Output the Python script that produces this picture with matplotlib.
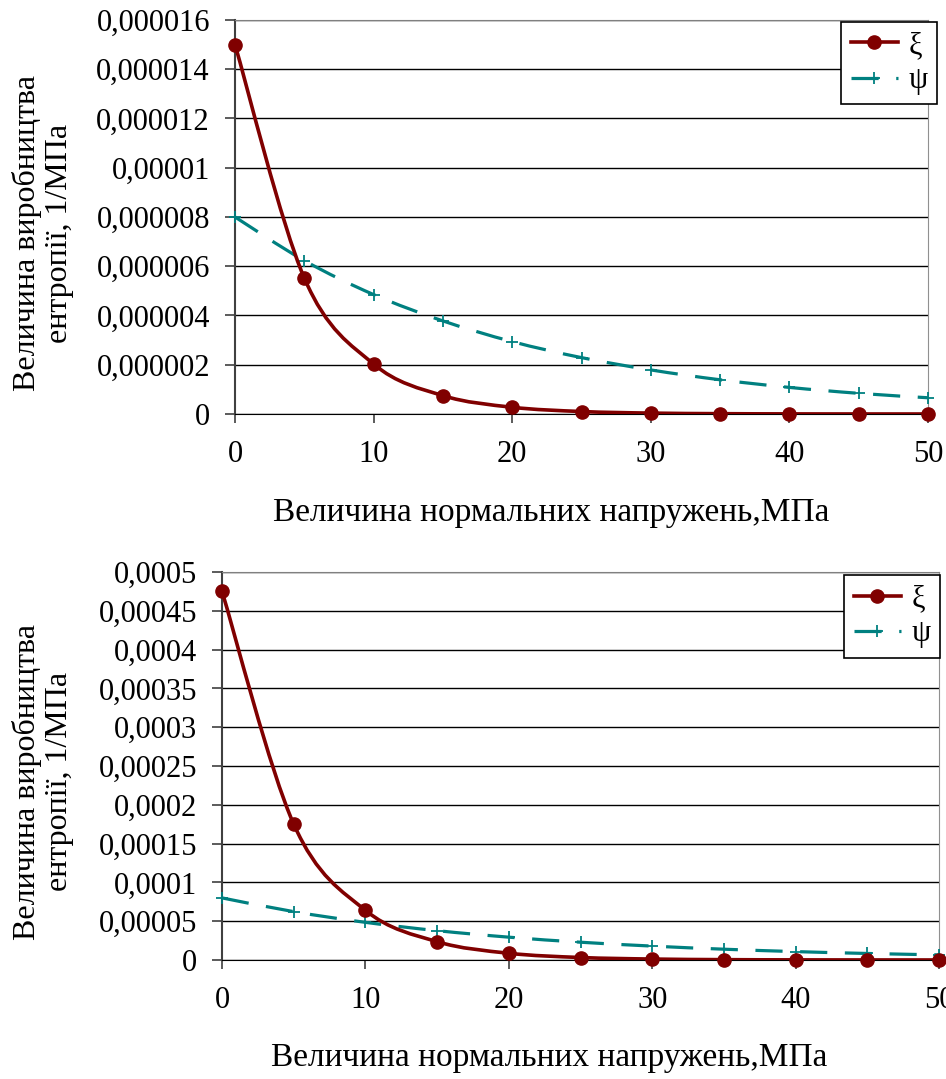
import numpy as np
import matplotlib
matplotlib.use("Agg")
from matplotlib import pyplot as plt
from matplotlib.path import Path
from matplotlib.patches import PathPatch
from matplotlib.lines import Line2D
from matplotlib.ticker import FuncFormatter, MultipleLocator

plt.rcParams['font.family'] = ['Liberation Serif', 'DejaVu Serif']

# ДАНІ

napruzhennia = [0, 5, 10, 15, 20, 25, 30, 35, 40, 45, 50]

xi_1 = [1.5e-5, 5.52e-6, 2.03e-6, 7.47e-7, 2.75e-7, 1.01e-7, 3.7e-8, 1.4e-8, 5e-9, 2e-9, 1e-9]
psi_1 = [8.0e-6, 6.23e-6, 4.85e-6, 3.78e-6, 2.94e-6, 2.29e-6, 1.79e-6, 1.39e-6, 1.08e-6, 8.4e-7, 6.6e-7]

xi_2 = [4.75e-4, 1.75e-4, 6.4e-5, 2.36e-5, 8.7e-6, 3.2e-6, 1.2e-6, 4.3e-7, 1.6e-7, 6e-8, 2e-8]
psi_2 = [8.0e-5, 6.23e-5, 4.85e-5, 3.78e-5, 2.94e-5, 2.29e-5, 1.79e-5, 1.39e-5, 1.08e-5, 8.4e-6, 6.6e-6]

mitky = ["ξ", "ψ"]
y_pidpys = "Величина виробництва\nентропії, 1/МПа"
x_pidpys = "Величина нормальних напружень,МПа"

KOLIR_XI = "#800000"
KOLIR_PSI = "#008080"
SHTRYKH = (0, (8.5, 5.5))
FS_TICK = 22
FS_X = 24
FS_Y = 23


def gladka_kryva(xs, ys):
    # згладжена лінія як у Excel (криві Безьє через точки)
    pts = np.column_stack([xs, ys])
    n = len(pts)
    verts = [pts[0]]
    codes = [Path.MOVETO]
    for i in range(n - 1):
        p0 = pts[max(i - 1, 0)]
        p1 = pts[i]
        p2 = pts[i + 1]
        p3 = pts[min(i + 2, n - 1)]
        verts += [p1 + (p2 - p0) / 6, p2 - (p3 - p1) / 6, p2]
        codes += [Path.CURVE4] * 3
    return Path(verts, codes)


def formatuvaty(v, pos):
    s = ("%.6f" % v).rstrip("0").rstrip(".")
    return s.replace(".", ",")


def grafik(ax, xi, psi, ymax, krok, leg_xy, xlab_xy, ylab_xy):
    ax.add_patch(PathPatch(gladka_kryva(napruzhennia, psi), fill=False,
                           edgecolor=KOLIR_PSI, lw=2.3, linestyle=SHTRYKH, zorder=3))
    ax.plot(napruzhennia, psi, ls="none", marker="+", ms=9, mew=1.3,
            color=KOLIR_PSI, clip_on=False, zorder=4)
    ax.add_patch(PathPatch(gladka_kryva(napruzhennia, xi), fill=False,
                           edgecolor=KOLIR_XI, lw=2.6, zorder=5))
    ax.plot(napruzhennia, xi, ls="none", marker="o", ms=9.5,
            color=KOLIR_XI, clip_on=False, zorder=6)

    ax.set_xlim(0, 50)
    ax.set_ylim(0, ymax)
    ax.xaxis.set_major_locator(MultipleLocator(10))
    ax.yaxis.set_major_locator(MultipleLocator(krok))
    ax.yaxis.set_major_formatter(FuncFormatter(formatuvaty))
    ax.grid(axis="y", color="black", lw=1)
    ax.set_axisbelow(True)
    ax.tick_params(axis="both", direction="out", labelsize=FS_TICK,
                   color="#404040", width=1.2)
    ax.tick_params(axis="y", length=7, pad=11)
    ax.tick_params(axis="x", length=6.5, pad=12)
    ax.spines["left"].set_color("#404040")
    ax.spines["left"].set_linewidth(1.5)
    ax.spines["bottom"].set_color("black")
    ax.spines["top"].set_color("#808080")
    ax.spines["right"].set_color("#909090")

    ax.set_xlabel(x_pidpys, fontsize=FS_X, va="center")
    ax.xaxis.set_label_coords(*xlab_xy)
    ax.set_ylabel(y_pidpys, fontsize=FS_Y, va="center", ha="center",
                  multialignment="center", linespacing=1.1)
    ax.yaxis.set_label_coords(*ylab_xy)

    ruchky = [
        Line2D([], [], color=KOLIR_XI, lw=2.6, marker="o", ms=9.5),
        Line2D([], [], color=KOLIR_PSI, lw=2.3, ls=SHTRYKH, marker="+", ms=9, mew=1.3),
    ]
    leg = ax.legend(ruchky, mitky, loc="upper right", bbox_to_anchor=leg_xy,
                    borderaxespad=0, fontsize=FS_TICK, fancybox=False, framealpha=1,
                    edgecolor="black", handlelength=1.55, handletextpad=0.35,
                    borderpad=0.3, labelspacing=0.2, numpoints=1)
    leg.get_frame().set_linewidth(1.2)
    leg.set_zorder(10)


fig = plt.figure(figsize=(9.46, 10.79), dpi=100)
ax1 = fig.add_axes([0.2484, 0.6163, 0.7326, 0.3652])
ax2 = fig.add_axes([0.2347, 0.1103, 0.7579, 0.3596])

grafik(ax1, xi_1, psi_1, 0.000016, 0.000002,
       (1.013, 0.995), (0.456, -0.251), (-0.277, 0.459))
grafik(ax2, xi_2, psi_2, 0.0005, 0.00005,
       (1.0014, 0.992), (0.456, -0.2526), (-0.2497, 0.459))

fig.savefig("out.png", dpi=100)
